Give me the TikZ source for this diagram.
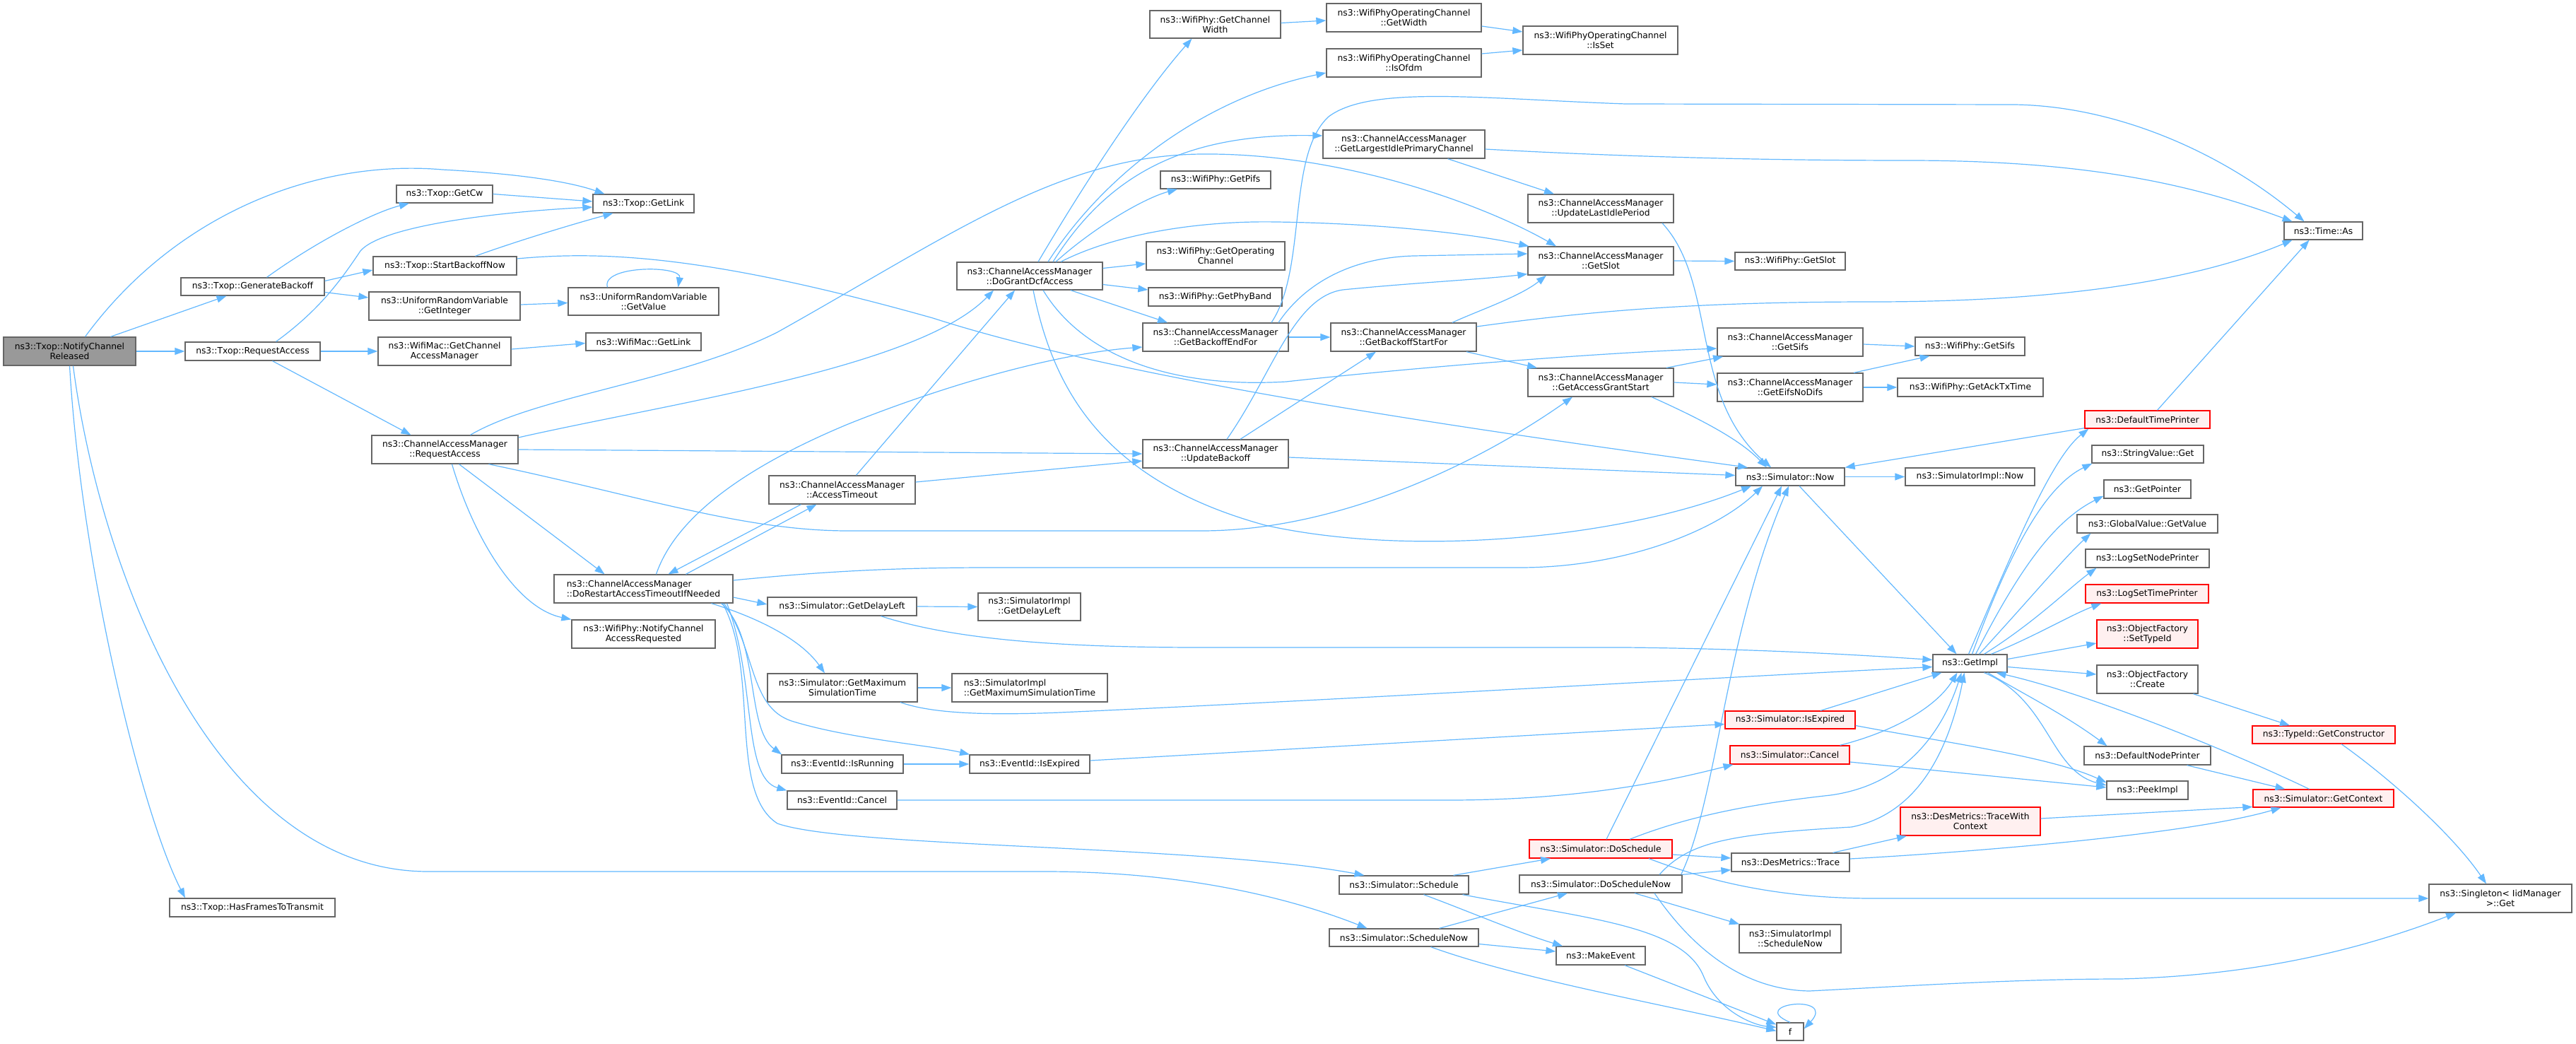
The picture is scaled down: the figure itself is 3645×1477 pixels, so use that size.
\documentclass[tikz,border=0pt]{standalone}
\usepackage{fontspec}
\setmainfont{DejaVu Sans}
\usetikzlibrary{arrows.meta}
\definecolor{edgeblue}{HTML}{63B8FF}
\definecolor{boxgray}{HTML}{666666}
\definecolor{rootfill}{HTML}{999999}
\definecolor{redfill}{HTML}{FFF0F0}
\definecolor{redline}{HTML}{FF0000}
\tikzset{
  box/.style={draw=boxgray, line width=1.3pt, fill=white, inner sep=0pt, align=center, font=\fontsize{12.3pt}{14pt}\selectfont},
  redbox/.style={box, draw=redline, fill=redfill},
  rootbox/.style={box, fill=rootfill},
  edge/.style={draw=edgeblue, line width=1.2pt, -{Triangle[length=14pt,width=10pt]}},
}
\newcommand{\bx}[6][box]{\node[#1, minimum width=#4pt, minimum height=#5pt] (#2) at #3 {#6};}
\begin{document}
\begin{tikzpicture}[x=1pt,y=-1pt]
\useasboundingbox (0,0) rectangle (3645,1477);
% ---------- nodes ----------
\bx[rootbox]{ncr}{(98.5,497)}{187}{40}{ns3::Txop::NotifyChannel\\Released}
\bx{gb}{(357.5,405.5)}{203}{25}{ns3::Txop::GenerateBackoff}
\bx{tra}{(357.5,497)}{191}{26}{ns3::Txop::RequestAccess}
\bx{hf}{(357,1284)}{234}{26}{ns3::Txop::HasFramesToTransmit}
\bx{getcw}{(629,274.5)}{136}{25}{ns3::Txop::GetCw}
\bx{sbn}{(629.5,376)}{203}{26}{ns3::Txop::StartBackoffNow}
\bx{gint}{(629,433)}{214}{40}{ns3::UniformRandomVariable\\::GetInteger}
\bx{gcam}{(629,497)}{188}{40}{ns3::WifiMac::GetChannel\\AccessManager}
\bx{cra}{(629.5,636)}{207}{40}{ns3::ChannelAccessManager\\::RequestAccess}
\bx{getlink}{(910.5,288)}{143}{26}{ns3::Txop::GetLink}
\bx{gval}{(910.5,426.5)}{213}{39}{ns3::UniformRandomVariable\\::GetValue}
\bx{maclink}{(910.5,483.5)}{163}{25}{ns3::WifiMac::GetLink}
\node[box, align=left, minimum width=253pt, minimum height=40pt] (dr) at (910.5,833) {ns3::ChannelAccessManager\\::DoRestartAccessTimeoutIfNeeded};
\bx{ncar}{(910.5,897)}{203}{40}{ns3::WifiPhy::NotifyChannel\\AccessRequested}
\bx{at}{(1191.5,693)}{207}{40}{ns3::ChannelAccessManager\\::AccessTimeout}
\bx{gdl}{(1191.5,858)}{211}{26}{ns3::Simulator::GetDelayLeft}
\bx{gmst}{(1192,973)}{212}{40}{ns3::Simulator::GetMaximum\\SimulationTime}
\bx{isrun}{(1192,1081)}{172}{26}{ns3::EventId::IsRunning}
\bx{ecancel}{(1191.5,1132)}{155}{26}{ns3::EventId::Cancel}
\bx{dg}{(1457,390.5)}{206}{39}{ns3::ChannelAccessManager\\::DoGrantDcfAccess}
\bx{sigdl}{(1456.5,858.5)}{145}{39}{ns3::SimulatorImpl\\::GetDelayLeft}
\node[box, align=left, minimum width=220pt, minimum height=40pt] (sigmst) at (1457,973) {ns3::SimulatorImpl\\::GetMaximumSimulationTime};
\bx{eexp}{(1457,1081)}{170}{26}{ns3::EventId::IsExpired}
\bx{gcw}{(1719.5,34.5)}{185}{39}{ns3::WifiPhy::GetChannel\\Width}
\bx{pifs}{(1720,254.5)}{156}{25}{ns3::WifiPhy::GetPifs}
\bx{goc}{(1720,362)}{196}{40}{ns3::WifiPhy::GetOperating\\Channel}
\bx{band}{(1719.5,420)}{189}{26}{ns3::WifiPhy::GetPhyBand}
\bx{gbef}{(1720,477)}{206}{40}{ns3::ChannelAccessManager\\::GetBackoffEndFor}
\bx{ub}{(1720,642)}{206}{40}{ns3::ChannelAccessManager\\::UpdateBackoff}
\bx{sched}{(1986.5,1252)}{183}{26}{ns3::Simulator::Schedule}
\bx{schednow}{(1986.5,1326.5)}{211}{25}{ns3::Simulator::ScheduleNow}
\bx{width}{(1986.5,25)}{219}{40}{ns3::WifiPhyOperatingChannel\\::GetWidth}
\bx{ofdm}{(1986.5,89)}{219}{40}{ns3::WifiPhyOperatingChannel\\::IsOfdm}
\bx{glipc}{(1986.5,204)}{229}{40}{ns3::ChannelAccessManager\\::GetLargestIdlePrimaryChannel}
\bx{gbsf}{(1986,477)}{206}{40}{ns3::ChannelAccessManager\\::GetBackoffStartFor}
\bx{isset}{(2264.5,57)}{219}{40}{ns3::WifiPhyOperatingChannel\\::IsSet}
\bx{ulip}{(2265,295)}{206}{40}{ns3::ChannelAccessManager\\::UpdateLastIdlePeriod}
\bx{gslot}{(2265,369)}{206}{40}{ns3::ChannelAccessManager\\::GetSlot}
\bx{gags}{(2265,541)}{206}{40}{ns3::ChannelAccessManager\\::GetAccessGrantStart}
\bx[redbox]{dosched}{(2265,1201)}{202}{26}{ns3::Simulator::DoSchedule}
\bx{doschednow}{(2265,1250.5)}{230}{25}{ns3::Simulator::DoScheduleNow}
\bx{mkev}{(2265,1352)}{126}{26}{ns3::MakeEvent}
\bx{pslot}{(2533,369.5)}{156}{25}{ns3::WifiPhy::GetSlot}
\bx{gsifs}{(2533,484)}{206}{40}{ns3::ChannelAccessManager\\::GetSifs}
\bx{eifs}{(2533,548)}{206}{40}{ns3::ChannelAccessManager\\::GetEifsNoDifs}
\bx{now}{(2533,674.5)}{154}{25}{ns3::Simulator::Now}
\bx[redbox]{sexp}{(2533,1018.5)}{184}{25}{ns3::Simulator::IsExpired}
\bx[redbox]{scancel}{(2532.5,1068)}{169}{26}{ns3::Simulator::Cancel}
\bx{trace}{(2533.5,1220)}{167}{26}{ns3::DesMetrics::Trace}
\bx{sinow}{(2533,1328)}{144}{40}{ns3::SimulatorImpl\\::ScheduleNow}
\bx{f}{(2533,1459.5)}{38}{25}{f}
\bx{psifs}{(2787.5,490)}{155}{26}{ns3::WifiPhy::GetSifs}
\bx{ack}{(2788,548)}{206}{26}{ns3::WifiPhy::GetAckTxTime}
\bx{simplnow}{(2787.5,674.5)}{183}{25}{ns3::SimulatorImpl::Now}
\bx{gimpl}{(2787.5,938.5)}{105}{25}{ns3::GetImpl}
\bx[redbox]{twc}{(2788,1162)}{198}{40}{ns3::DesMetrics::TraceWith\\Context}
\bx[redbox]{dtp}{(3038.5,593.5)}{177}{25}{ns3::DefaultTimePrinter}
\bx{strget}{(3039,642.5)}{158}{25}{ns3::StringValue::Get}
\bx{gptr}{(3038.5,692)}{123}{26}{ns3::GetPointer}
\bx{gv}{(3038.5,741)}{199}{26}{ns3::GlobalValue::GetValue}
\bx{lsnp}{(3038.5,790)}{175}{26}{ns3::LogSetNodePrinter}
\bx[redbox]{lstp}{(3038,840)}{174}{26}{ns3::LogSetTimePrinter}
\bx[redbox]{settid}{(3038.5,897)}{143}{40}{ns3::ObjectFactory\\::SetTypeId}
\bx{create}{(3038.5,961)}{143}{40}{ns3::ObjectFactory\\::Create}
\bx{dnp}{(3038.5,1069)}{179}{26}{ns3::DefaultNodePrinter}
\bx{peek}{(3038.5,1118)}{115}{26}{ns3::PeekImpl}
\bx[redbox]{gctor}{(3288,1039.5)}{202}{25}{ns3::TypeId::GetConstructor}
\bx[redbox]{gctx}{(3287.5,1129.5)}{199}{25}{ns3::Simulator::GetContext}
\bx{timeas}{(3287.5,326.5)}{111}{25}{ns3::Time::As}
\bx{singleton}{(3538,1271)}{202}{40}{ns3::Singleton< IidManager\\ >::Get}
% ---------- edges ----------
% NotifyChannelReleased
\draw[edge] ([xshift=58pt]ncr.north) -- ([xshift=-37pt]gb.south);
\draw[edge] (ncr.east) -- (tra.west);
\draw[edge] ([xshift=22pt]ncr.north) .. controls (250,300) and (450,225) .. (626,240) .. controls (720,245) and (800,255) .. ([xshift=-55pt]getlink.north);
\draw[edge] (ncr.south) .. controls (115,800) and (200,1150) .. ([xshift=-95pt]hf.north);
\draw[edge] ([xshift=5pt]ncr.south) .. controls (140,800) and (300,1233) .. (606,1233) -- (1479,1233) .. controls (1700,1233) and (1850,1280) .. ([xshift=-52pt]schednow.north);
% GenerateBackoff
\draw[edge] ([xshift=20pt]gb.north) .. controls (450,340) and (530,300) .. ([xshift=-50pt]getcw.south);
\draw[edge] ([yshift=8pt]gb.east) -- ([yshift=-6pt]sbn.west);
\draw[edge] ([yshift=-8pt]gb.east) -- ([yshift=12pt]gint.west);
% Txop::RequestAccess
\draw[edge] (tra.east) -- (gcam.west);
\draw[edge] ([xshift=28pt]tra.south) -- ([xshift=-48pt]cra.north);
\draw[edge] ([xshift=33pt]tra.north) .. controls (450,440) and (480,400) .. (510,355) .. controls (540,320) and (700,300) .. ([yshift=-5pt]getlink.west);
% GetCw, StartBackoffNow
\draw[edge] (getcw.east) -- ([yshift=3pt]getlink.west);
\draw[edge] ([xshift=43pt]sbn.north) .. controls (720,345) and (800,320) .. ([xshift=-43pt]getlink.south);
\draw[edge] ([yshift=10pt]sbn.east) .. controls (850,355) and (1000,360) .. (1320,450) .. controls (1600,540) and (2100,610) .. ([xshift=-60pt]now.north);
% URV
\draw[edge] ([yshift=2pt]gint.east) -- ([yshift=-2pt]gval.west);
\draw[edge] ([xshift=-51pt]gval.north) .. controls (850,375) and (965,375) .. ([xshift=49pt]gval.north);
\draw[edge] ([yshift=3pt]gcam.east) -- ([yshift=-2pt]maclink.west);
% CAM::RequestAccess
\draw[edge] ([yshift=17pt]cra.east) .. controls (950,570) and (1300,520) .. ([xshift=-51pt]dg.south);
\draw[edge] ([xshift=36pt]cra.north) .. controls (760,560) and (960,540) .. (1100,470) .. controls (1350,330) and (1500,220) .. (1700,218) .. controls (1900,216) and (2100,290) .. ([xshift=-63pt]gslot.north);
\draw[edge] (cra.east) -- (ub.west);
\draw[edge] ([xshift=62pt]cra.south) .. controls (900,700) and (1050,751) .. (1200,751) -- (1700,751) .. controls (1900,751) and (2100,650) .. ([xshift=-40pt]gags.south);
\draw[edge] ([xshift=20pt]cra.south) -- ([xshift=-55pt]dr.north);
\draw[edge] ([xshift=10pt]cra.south) .. controls (670,760) and (730,860) .. (ncar.north west);
% DoRestartAccessTimeoutIfNeeded
\draw[edge] ([xshift=60pt]dr.north) -- ([xshift=-36pt]at.south);
\draw[edge] ([xshift=-58pt]at.south) -- ([xshift=35pt]dr.north);
\draw[edge] ([xshift=18pt]dr.north) .. controls (960,720) and (1080,650) .. (1200,600) .. controls (1350,540) and (1500,500) .. ([yshift=-14pt]gbef.west);
\draw[edge] ([yshift=-12pt]dr.east) -- ([yshift=3pt]gdl.west);
\draw[edge] ([yshift=12pt]dr.east) .. controls (1150,810) and (1250,803) .. (1400,803) -- (2150,803) .. controls (2300,803) and (2430,750) .. ([xshift=-39pt]now.south);
\draw[edge] ([xshift=96pt]dr.south) .. controls (1060,870) and (1130,900) .. ([xshift=-25pt]gmst.north);
\draw[edge] ([xshift=110pt]dr.south) .. controls (1075,900) and (1055,1030) .. ([xshift=-86pt]isrun.north);
\draw[edge] ([xshift=114pt]dr.south) .. controls (1070,920) and (1060,1000) .. (1120,1020) .. controls (1200,1045) and (1320,1055) .. ([xshift=-85pt]eexp.north);
\draw[edge] ([xshift=118pt]dr.south) .. controls (1070,960) and (1050,1100) .. (ecancel.north west);
\draw[edge] ([xshift=112pt]dr.south) .. controls (1075,950) and (1030,1120) .. (1100,1165) .. controls (1200,1200) and (1700,1195) .. ([xshift=-56pt]sched.north);
% AccessTimeout
\draw[edge] ([yshift=11pt]at.east) -- ([yshift=-10pt]ub.west);
\draw[edge] ([xshift=20pt]at.north) -- ([xshift=-21pt]dg.south);
% UpdateBackoff
\draw[edge] ([xshift=35pt]ub.north) -- ([xshift=-39pt]gbsf.south);
\draw[edge] ([xshift=16pt]ub.north) .. controls (1800,530) and (1830,420) .. (1900,410) .. controls (2000,400) and (2100,395) .. ([yshift=2pt]gslot.south west);
\draw[edge] ([yshift=-5pt]ub.east) -- ([yshift=2pt]now.west);
% GetBackoffEndFor
\draw[edge] (gbef.east) -- (gbsf.west);
\draw[edge] ([xshift=89pt]gbef.north) .. controls (1840,410) and (1900,365) .. (2000,362) -- ([yshift=10pt]gslot.west);
\draw[edge] ([xshift=79pt]gbef.north) .. controls (1850,380) and (1820,220) .. (1880,165) .. controls (1940,120) and (2100,140) .. (2300,147) -- (2850,148) .. controls (3000,150) and (3150,220) .. ([xshift=-27pt]timeas.north);
% DoGrantDcfAccess
\draw[edge] ([xshift=12pt]dg.north) .. controls (1540,250) and (1620,130) .. ([xshift=-33pt]gcw.south);
\draw[edge] ([xshift=26pt]dg.north) .. controls (1560,250) and (1700,140) .. ([yshift=-14pt]ofdm.west);
\draw[edge] ([xshift=33pt]dg.north) .. controls (1560,260) and (1660,188) .. ([yshift=12pt]glipc.west);
\draw[edge] ([xshift=37pt]dg.north) .. controls (1550,320) and (1620,280) .. ([xshift=-54pt]pifs.south);
\draw[edge] ([xshift=44pt]dg.north) .. controls (1580,330) and (1700,312) .. (1806,314) .. controls (1950,316) and (2080,330) .. ([xshift=2pt]gslot.north west);
\draw[edge] ([yshift=11pt]dg.east) -- ([yshift=-11pt]goc.west);
\draw[edge] ([yshift=-12pt]dg.east) -- ([yshift=10pt]band.west);
\draw[edge] ([xshift=58pt]dg.south) -- ([xshift=-68pt]gbef.north);
\draw[edge] ([xshift=19pt]dg.south) .. controls (1530,500) and (1650,550) .. (1820,540) .. controls (2000,520) and (2250,500) .. ([yshift=-9pt]gsifs.west);
\draw[edge] ([xshift=5pt]dg.south) .. controls (1490,550) and (1560,680) .. (1790,743) .. controls (2000,790) and (2300,760) .. ([xshift=-55pt]now.south);
% WifiPhy channel
\draw[edge] ([yshift=2pt]gcw.east) -- ([yshift=-4pt]width.west);
\draw[edge] ([yshift=-12pt]width.east) -- ([yshift=12pt]isset.west);
\draw[edge] ([yshift=13pt]ofdm.east) -- ([yshift=-14pt]isset.west);
\draw[edge] ([xshift=62pt]glipc.south) -- ([xshift=-66pt]ulip.north);
\draw[edge] ([yshift=-7pt]glipc.east) .. controls (2300,222) and (2500,227) .. (2700,227) .. controls (2950,227) and (3100,260) .. ([xshift=-44pt]timeas.north);
% GetBackoffStartFor
\draw[edge] ([xshift=69pt]gbsf.north) .. controls (2090,440) and (2150,420) .. ([xshift=-77pt]gslot.south);
\draw[edge] ([xshift=89pt]gbsf.south) -- ([xshift=-90pt]gags.north);
\draw[edge] ([yshift=15pt]gbsf.east) .. controls (2250,440) and (2400,427) .. (2650,427) .. controls (2900,427) and (3100,400) .. ([xshift=-44pt]timeas.south);
% UpdateLastIdlePeriod, GetSlot
\draw[edge] ([xshift=87pt]ulip.south) .. controls (2430,400) and (2390,560) .. ([xshift=-27pt]now.north);
\draw[edge] (gslot.east) -- (pslot.west);
% GetAccessGrantStart
\draw[edge] ([xshift=93pt]gags.north) -- ([xshift=-95pt]gsifs.south);
\draw[edge] (gags.east) -- ([yshift=4pt]eifs.west);
\draw[edge] ([xshift=72pt]gags.south) .. controls (2400,590) and (2460,620) .. ([xshift=-33pt]now.north);
\draw[edge] ([yshift=-3pt]gsifs.east) -- (psifs.west);
\draw[edge] ([xshift=90pt]eifs.north) -- ([xshift=-57pt]psifs.south);
\draw[edge] (eifs.east) -- (ack.west);
% Simulator::Now
\draw[edge] (now.east) -- (simplnow.west);
\draw[edge] ([xshift=13pt]now.south) -- ([xshift=-19pt]gimpl.north);
\draw[edge] ([yshift=1pt]dtp.south west) -- (now.north east);
\draw[edge] ([xshift=14pt]dtp.north) -- ([xshift=-20pt]timeas.south);
% GetImpl
\draw[edge] ([xshift=-2pt]gimpl.north) .. controls (2840,800) and (2900,650) .. ([xshift=6pt]dtp.south west);
\draw[edge] ([xshift=3pt]gimpl.north) .. controls (2840,790) and (2890,690) .. ([xshift=1pt]strget.south west);
\draw[edge] ([xshift=8pt]gimpl.north) .. controls (2850,820) and (2900,740) .. ([yshift=4pt]gptr.south west);
\draw[edge] ([xshift=13pt]gimpl.north) .. controls (2870,850) and (2920,790) .. ([xshift=20pt]gv.south west);
\draw[edge] ([xshift=20pt]gimpl.north) .. controls (2880,880) and (2930,830) .. ([xshift=16pt]lsnp.south west);
\draw[edge] ([xshift=30pt]gimpl.north) .. controls (2880,900) and (2930,870) .. ([xshift=23pt]lstp.south west);
\draw[edge] ([yshift=6pt]gimpl.east) -- ([yshift=-13pt]settid.west);
\draw[edge] ([yshift=-5pt]gimpl.east) -- ([yshift=7pt]create.west);
\draw[edge] ([xshift=25pt]gimpl.south) .. controls (2860,980) and (2920,1010) .. ([xshift=-57pt]dnp.north);
\draw[edge] ([xshift=20pt]gimpl.south) .. controls (2900,990) and (2900,1090) .. ([yshift=7pt]peek.west);
\draw[edge] ([xshift=-20pt]gctx.north) .. controls (3150,1060) and (2950,980) .. ([xshift=37pt]gimpl.south);
% Simulator::IsExpired, Cancel
\draw[edge] ([xshift=43pt]sexp.north) -- ([xshift=-40pt]gimpl.south);
\draw[edge] ([yshift=-8pt]sexp.east) .. controls (2750,1050) and (2900,1070) .. ([yshift=11pt]peek.west);
\draw[edge] ([xshift=71pt]scancel.north) .. controls (2680,1035) and (2740,1000) .. ([xshift=-18pt]gimpl.south);
\draw[edge] ([yshift=-10pt]scancel.east) -- ([yshift=4pt]peek.west);
% EventId
\draw[edge] ([yshift=5pt]eexp.east) -- ([yshift=-6pt]sexp.west);
\draw[edge] (ecancel.east) -- (2050,1132) .. controls (2250,1132) and (2380,1100) .. ([xshift=-80pt]scancel.south);
\draw[edge] (isrun.east) -- (eexp.west);
% GetDelayLeft, GetMaximumSimulationTime
\draw[edge] (gdl.east) -- (sigdl.west);
\draw[edge] ([xshift=55pt]gdl.south) .. controls (1350,905) and (1500,916) .. (1700,916) -- (2300,916) .. controls (2500,918) and (2650,928) .. ([yshift=5pt]gimpl.west);
\draw[edge] (gmst.east) -- (sigmst.west);
\draw[edge] ([xshift=82pt]gmst.south) .. controls (1320,1010) and (1400,1012) .. (1500,1008) .. controls (1900,990) and (2400,960) .. ([yshift=-5pt]gimpl.west);
% Schedule, ScheduleNow, MakeEvent, f
\draw[edge] ([xshift=70pt]sched.north) -- ([xshift=-71pt]dosched.south);
\draw[edge] ([xshift=28pt]sched.south) .. controls (2080,1290) and (2150,1320) .. ([xshift=-54pt]mkev.north);
\draw[edge] ([xshift=83pt]sched.south) .. controls (2250,1300) and (2380,1310) .. (2410,1380) .. controls (2430,1430) and (2480,1450) .. ([yshift=6pt]f.west);
\draw[edge] ([xshift=50pt]schednow.north) -- ([xshift=-47pt]doschednow.south);
\draw[edge] ([yshift=-9pt]schednow.east) -- ([yshift=6pt]mkev.west);
\draw[edge] ([xshift=38pt]schednow.south) .. controls (2150,1385) and (2350,1420) .. ([yshift=1pt]f.west);
\draw[edge] ([xshift=34pt]mkev.south) -- ([yshift=10pt]f.west);
\draw[edge] (f.north) .. controls (2470,1420) and (2600,1405) .. ([yshift=4pt]f.east);
% DoSchedule
\draw[edge] ([xshift=8pt]dosched.north) -- ([xshift=-12pt]now.south);
\draw[edge] ([xshift=41pt]dosched.north) .. controls (2400,1150) and (2500,1135) .. (2590,1125) .. controls (2700,1110) and (2750,1030) .. ([xshift=-12pt]gimpl.south);
\draw[edge] ([yshift=-8pt]dosched.east) -- ([yshift=6pt]trace.west);
\draw[edge] ([xshift=68pt]dosched.south) .. controls (2400,1240) and (2500,1271) .. (2650,1271) -- (singleton.west);
% DoScheduleNow
\draw[edge] ([xshift=-2pt]doschednow.north east) .. controls (2430,1130) and (2440,900) .. ([xshift=-2pt]now.south);
\draw[edge] ([xshift=83pt]doschednow.north) .. controls (2390,1190) and (2450,1180) .. (2620,1170) .. controls (2720,1150) and (2760,1050) .. ([xshift=-8pt]gimpl.south);
\draw[edge] (doschednow.north east) -- ([yshift=3pt]trace.south west);
\draw[edge] ([xshift=48pt]doschednow.south) -- ([xshift=-72pt]sinow.north);
\draw[edge] ([xshift=76pt]doschednow.south) .. controls (2380,1320) and (2450,1400) .. (2560,1402) .. controls (2700,1395) and (2850,1385) .. (3000,1385) .. controls (3200,1380) and (3350,1340) .. ([xshift=-63pt]singleton.south);
% DesMetrics, printers, factory
\draw[edge] ([xshift=60pt]trace.north) -- ([xshift=-90pt]twc.south);
\draw[edge] ([yshift=5pt]trace.east) .. controls (2800,1205) and (3100,1180) .. ([xshift=-60pt]gctx.south);
\draw[edge] ([yshift=4pt]twc.east) -- ([yshift=-12pt]gctx.west);
\draw[edge] ([xshift=56pt]dnp.south) -- ([xshift=-54pt]gctx.north);
\draw[edge] ([xshift=65pt]create.south) -- ([xshift=-48pt]gctor.north);
\draw[edge] ([xshift=25pt]gctor.south) .. controls (3380,1100) and (3470,1180) .. ([xshift=-20pt]singleton.north);
\end{tikzpicture}
\end{document}
